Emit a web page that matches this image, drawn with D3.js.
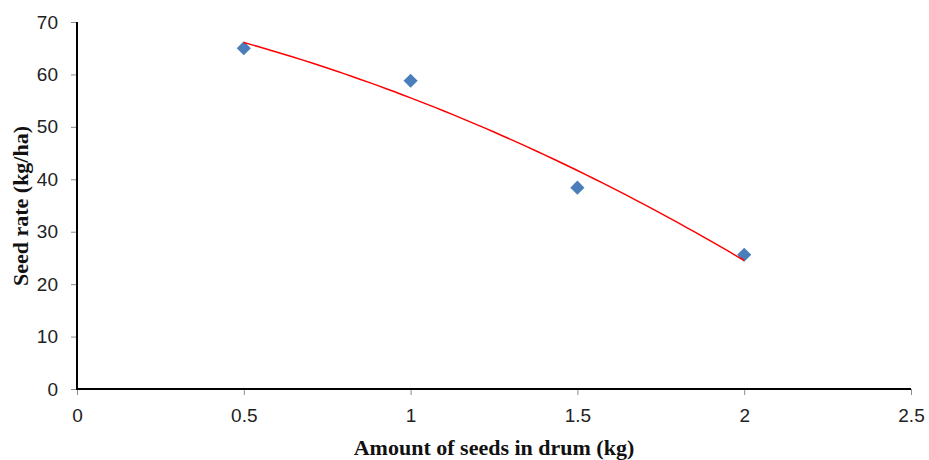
<!DOCTYPE html>
<html>
<head>
<meta charset="utf-8">
<script src="https://cdn.jsdelivr.net/npm/d3@7"></script>
<style>
  body { margin: 0; background: #fff; }
  .tick text { font-family: "Liberation Sans", Arial, sans-serif; font-size: 19px; fill: #222; }
  .title { font-family: "Liberation Serif", "Times New Roman", serif; font-weight: bold; font-size: 22px; fill: #111; }
</style>
</head>
<body>
<svg id="chart" width="929" height="460"></svg>
<script>
// data
const drumKg = [0.5, 1, 1.5, 2];
const seedRate = [65, 58.8, 38.4, 25.6];
const xTicks = [0, 0.5, 1, 1.5, 2, 2.5];
const yTicks = [0, 10, 20, 30, 40, 50, 60, 70];
const xTitle = "Amount of seeds in drum (kg)";
const yTitle = "Seed rate (kg/ha)";

const svg = d3.select("#chart");
const margin = { left: 77, top: 22, right: 18, bottom: 71 };
const W = 929, H = 460;

const x = d3.scaleLinear().domain([0, 2.5]).range([margin.left, W - margin.right]);
const y = d3.scaleLinear().domain([0, 70]).range([H - margin.bottom, margin.top]);

// axes
const xAxis = d3.axisBottom(x).tickValues(xTicks).tickFormat(d => d).tickSize(6).tickPadding(14);
const gx = svg.append("g").attr("transform", `translate(0,${y(0)})`).call(xAxis);
gx.select(".domain").remove();
gx.selectAll(".tick line").attr("stroke", "#8c8c8c");

const yAxis = d3.axisLeft(y).tickValues(yTicks).tickSize(6).tickPadding(13);
const gy = svg.append("g").attr("transform", `translate(${x(0)},0)`).call(yAxis);
gy.select(".domain").remove();
gy.selectAll(".tick line").attr("stroke", "#8c8c8c");

// axis lines
svg.append("line")
  .attr("x1", x(0)).attr("x2", x(0)).attr("y1", y(70)).attr("y2", y(0) + 1)
  .attr("stroke", "#000").attr("stroke-width", 2);
svg.append("line")
  .attr("x1", x(0) - 1).attr("x2", x(2.5)).attr("y1", y(0)).attr("y2", y(0))
  .attr("stroke", "#000").attr("stroke-width", 2);

// polynomial (order 2) trendline, least squares on the points
function polyFit(xs, ys) {
  const n = xs.length;
  let s = [0, 0, 0, 0, 0], t = [0, 0, 0];
  for (let i = 0; i < n; i++) {
    for (let k = 0; k < 5; k++) s[k] += Math.pow(xs[i], k);
    for (let k = 0; k < 3; k++) t[k] += ys[i] * Math.pow(xs[i], k);
  }
  const A = [[s[0], s[1], s[2], t[0]], [s[1], s[2], s[3], t[1]], [s[2], s[3], s[4], t[2]]];
  for (let i = 0; i < 3; i++) {
    for (let j = i + 1; j < 3; j++) {
      const f = A[j][i] / A[i][i];
      for (let k = i; k < 4; k++) A[j][k] -= f * A[i][k];
    }
  }
  const c = [0, 0, 0];
  for (let i = 2; i >= 0; i--) {
    let v = A[i][3];
    for (let k = i + 1; k < 3; k++) v -= A[i][k] * c[k];
    c[i] = v / A[i][i];
  }
  return c;
}
const coef = polyFit(drumKg, seedRate);
const fitX = d3.range(d3.min(drumKg), d3.max(drumKg) + 0.001, 0.025);
const trend = fitX.map(v => [v, coef[0] + coef[1] * v + coef[2] * v * v]);

// markers
svg.append("g").selectAll("path")
  .data(drumKg.map((d, i) => [d, seedRate[i]]))
  .join("path")
  .attr("d", d3.symbol(d3.symbolSquare, 100))
  .attr("transform", d => `translate(${x(d[0])},${y(d[1])}) rotate(45)`)
  .attr("fill", "#4a7ebb");

svg.append("path")
  .datum(trend)
  .attr("d", d3.line().x(d => x(d[0])).y(d => y(d[1])))
  .attr("fill", "none")
  .attr("stroke", "#ff0000")
  .attr("stroke-width", 1.5);

// titles
svg.append("text").attr("class", "title")
  .attr("x", 494).attr("y", 455).attr("text-anchor", "middle")
  .text(xTitle);
svg.append("text").attr("class", "title")
  .attr("transform", "translate(28,206) rotate(-90)")
  .attr("text-anchor", "middle")
  .text(yTitle);
</script>
</body>
</html>
